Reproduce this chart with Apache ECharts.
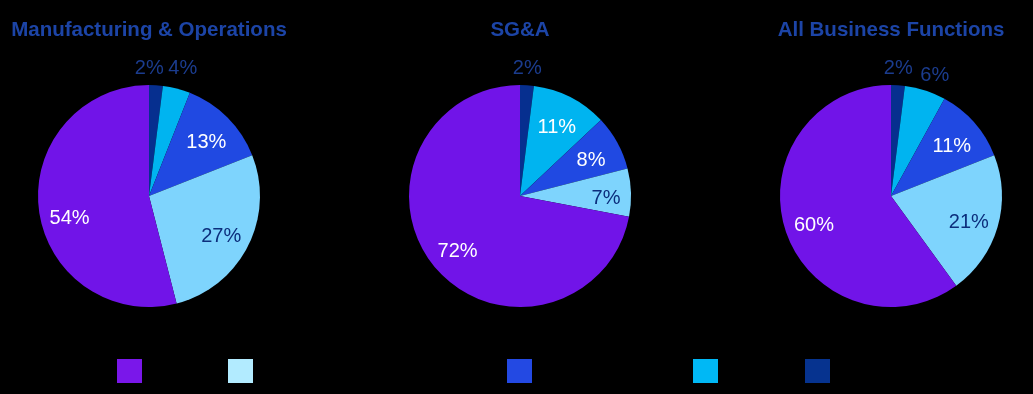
<!DOCTYPE html>
<html>
<head>
<meta charset="utf-8">
<script src="https://cdn.jsdelivr.net/npm/echarts@6/dist/echarts.min.js"></script>
<style>
html,body{margin:0;padding:0;background:#000;}
#chart{width:1033px;height:394px;}
</style>
</head>
<body>
<div id="chart"></div>
<script>
// Slice order, clockwise from 12 o'clock
const categories = ['Very large extent', 'Large extent', 'Moderate extent', 'Small extent', 'Not at all'];
const titles = ['Manufacturing & Operations', 'SG&A', 'All Business Functions'];
const mfgOps = [2, 4, 13, 27, 54];
const sgna = [2, 11, 8, 7, 72];
const allFunctions = [2, 6, 11, 21, 60];
// which slices carry their label outside the pie
const outsideLabels = [
  [true, true, false, false, false],
  [true, false, false, false, false],
  [true, true, false, false, false]
];

const sliceColors = ['#062F8F', '#00B4F0', '#2049E2', '#7ED4FD', '#7114E8'];
const legendColors = ['#06338F', '#00B8F5', '#2349E3', '#B2EBFF', '#7A17EA'];
const labelColors = ['#1B3C8E', '#1B3C8E', '#FFFFFF', '#0C2E7C', '#FFFFFF'];
const insideColors = ['#FFFFFF', '#FFFFFF', '#FFFFFF', '#0C2E7C', '#FFFFFF'];

const centers = [[149, 196], [520, 196], [891, 196]];
const R = 111;
const allValues = [mfgOps, sgna, allFunctions];
const FONT = 'Liberation Sans, Arial, sans-serif';

// small hand nudges of label placement (pie index, slice index) -> offset
function innerNudge(p, i) {
  if (p === 0 && i === 4) return { dx: 1, dy: 12 };
  if (p === 1 && i === 3) return { dx: 5, dy: 5 };
  return { dy: 4 };
}
function outerNudge(p, i) {
  if (p === 0 && i === 0) return { dx: -8, dy: 4 };
  if (p === 0 && i === 1) return { dx: 1, dy: 0 };
  if (i === 1) return { dx: 3, dy: 5 };
  return { dx: -1, dy: 4 };
}

const series = [];
allValues.forEach(function (vals, p) {
  series.push({
    type: 'pie', center: centers[p], radius: [0, R], silent: true,
    label: { show: false }, labelLine: { show: false },
    data: vals.map(function (v, i) {
      return { name: categories[i], value: v, itemStyle: { color: sliceColors[i] } };
    })
  });
  // inner label ring
  series.push({
    type: 'pie', center: centers[p], radius: [45, R], silent: true,
    itemStyle: { color: 'rgba(0,0,0,0)' },
    labelLine: { show: false },
    labelLayout: function (params) { return innerNudge(p, params.dataIndex); },
    data: vals.map(function (v, i) {
      return { name: categories[i], value: v,
        label: { show: !outsideLabels[p][i], position: 'inside', formatter: '{c}%',
          color: insideColors[i], fontSize: 20, fontFamily: FONT } };
    })
  });
  // outer label ring
  series.push({
    type: 'pie', center: centers[p], radius: [115, 143], silent: true,
    itemStyle: { color: 'rgba(0,0,0,0)' },
    labelLine: { show: false },
    labelLayout: function (params) { return outerNudge(p, params.dataIndex); },
    data: vals.map(function (v, i) {
      return { name: categories[i], value: v,
        label: { show: outsideLabels[p][i], position: 'inside', formatter: '{c}%',
          color: labelColors[i], fontSize: 20, fontFamily: FONT } };
    })
  });
});

const legendOrder = categories.slice().reverse();
const legendColorOrder = legendColors.slice().reverse();
const legendLefts = [112, 223, 502, 688, 800];

const chart = echarts.init(document.getElementById('chart'));
chart.setOption({
  backgroundColor: '#000000',
  animation: false,
  title: titles.map(function (t, p) {
    return { text: t, left: centers[p][0] - 5, top: 15, textAlign: 'center',
      textStyle: { color: '#1C44A6', fontSize: 20.5, fontWeight: 'bold', fontFamily: FONT } };
  }),
  legend: legendOrder.map(function (name, i) {
    return { left: legendLefts[i], top: 354, itemWidth: 25, itemHeight: 24, icon: 'rect',
      selectedMode: false,
      textStyle: { color: '#000000', fontSize: 16 },
      data: [{ name: name, itemStyle: { color: legendColorOrder[i] } }] };
  }),
  series: series
});
</script>
</body>
</html>
